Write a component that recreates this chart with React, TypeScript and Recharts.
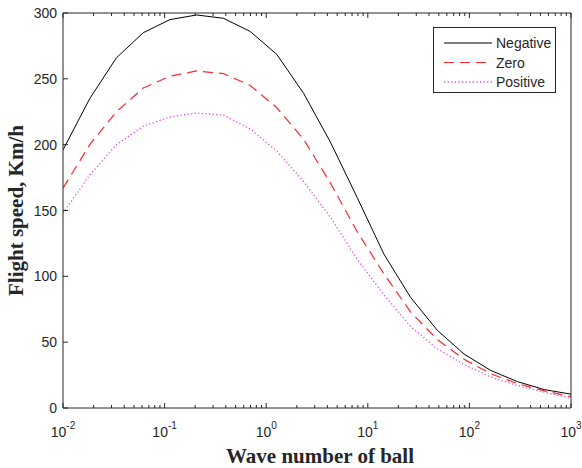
import React from "react";
import { LineChart, Line, XAxis, YAxis, Legend } from "recharts";

// wave number (log spaced, 1e-2 .. 1e3)
const waveNumber = [
  0.01, 0.01833, 0.0336, 0.06158, 0.1129, 0.2069, 0.3793, 0.6952, 1.274, 2.336,
  4.281, 7.848, 14.38, 26.37, 48.33, 88.59, 162.4, 297.6, 545.6, 1000,
];
const negative = [196, 235, 266, 285, 295, 298.5, 296, 286, 268.5, 239, 202, 160, 117, 84, 59, 41, 28.5, 20, 14, 10.5];
const zero = [167, 200, 225, 243, 252, 256, 254, 245, 228, 204, 171, 134, 102, 73, 52, 37, 26, 18.5, 13, 8.6];
const positive = [148, 177, 200, 214, 221, 224, 222.5, 212, 195, 172, 145, 113, 86, 62, 45, 33, 23.5, 17, 12, 7.4];

const decades = [0.01, 0.1, 1, 10, 100, 1000];
const yTicks = [0, 50, 100, 150, 200, 250, 300];

const xTicks = decades.flatMap((d, i) =>
  i < decades.length - 1 ? [2, 3, 4, 5, 6, 7, 8, 9].map((m) => d * m).concat([d]) : [d]
);

const data = waveNumber.map((k, i) => ({
  k,
  negative: negative[i],
  zero: zero[i],
  positive: positive[i],
}));

const AX = "#262626";
const SANS = "'Liberation Sans', Arial, sans-serif";
const SERIF = "'Liberation Serif', 'Times New Roman', serif";

const isMajor = (v: number) => Math.abs(Math.log10(v) - Math.round(Math.log10(v))) < 1e-6;

const BottomTick = ({ x, y, payload }: any) => {
  const v = payload.value;
  const major = isMajor(v);
  const e = Math.round(Math.log10(v));
  return (
    <g>
      <line x1={x} x2={x} y1={y} y2={y - (major ? 5 : 3)} stroke={AX} strokeWidth={1} />
      {major && (
        <text x={x} y={y + 29} textAnchor="middle" fontFamily={SANS} fontSize={14} fill={AX}>
          10
          <tspan dy={-8} fontSize={10}>
            {e}
          </tspan>
        </text>
      )}
    </g>
  );
};

const TopTick = ({ x, y, payload }: any) => {
  const major = isMajor(payload.value);
  return <line x1={x} x2={x} y1={y} y2={y + (major ? 5 : 3)} stroke={AX} strokeWidth={1} />;
};

const LeftTick = ({ x, y, payload }: any) => (
  <g>
    <line x1={x} x2={x + 5} y1={y} y2={y} stroke={AX} strokeWidth={1} />
    <text x={x - 6} y={y + 5} textAnchor="end" fontFamily={SANS} fontSize={14} fill={AX}>
      {payload.value}
    </text>
  </g>
);

const RightTick = ({ x, y }: any) => <line x1={x} x2={x - 5} y1={y} y2={y} stroke={AX} strokeWidth={1} />;

const series = [
  { key: "negative", name: "Negative", color: "#000000", dash: undefined, width: 1 },
  { key: "zero", name: "Zero", color: "#ff2828", dash: "10 6", width: 1.2 },
  { key: "positive", name: "Positive", color: "#dd44dd", dash: "1.2 2.4", width: 1.3 },
];

const LegendBox = () => (
  <div
    style={{
      width: 121,
      height: 64,
      border: `1px solid ${AX}`,
      background: "#fff",
      position: "relative",
    }}
  >
    <svg width={121} height={64}>
      {series.map((s, i) => {
        const cy = 15 + i * 19.5;
        return (
          <g key={s.key}>
            <line x1={10} x2={58} y1={cy} y2={cy} stroke={s.color} strokeWidth={s.width} strokeDasharray={s.dash} />
            <text x={62} y={cy + 5} fontFamily={SANS} fontSize={14} fill={AX}>
              {s.name}
            </text>
          </g>
        );
      })}
    </svg>
  </div>
);

export default function App() {
  return (
    <div style={{ position: "absolute", left: 0, top: 0, background: "#fff" }}>
      <LineChart width={582} height={468} data={data} margin={{ top: 0, right: 0, bottom: 0, left: 0 }}>
        <XAxis
          dataKey="k"
          type="number"
          scale="log"
          domain={[0.01, 1000]}
          allowDataOverflow
          ticks={xTicks}
          interval={0}
          tickSize={0}
          tickMargin={0}
          tickLine={false}
          tick={(p: any) => <BottomTick {...p} />}
          axisLine={{ stroke: AX }}
          height={60}
          label={{
            content: ({ viewBox }: any) => (
              <text
                x={viewBox.x + viewBox.width / 2 + 3}
                y={viewBox.y + 55}
                textAnchor="middle"
                fontFamily={SERIF}
                fontWeight="bold"
                fontSize={21}
                fill={AX}
              >
                Wave number of ball
              </text>
            ),
          }}
        />
        <XAxis
          xAxisId="top"
          orientation="top"
          dataKey="k"
          type="number"
          scale="log"
          domain={[0.01, 1000]}
          allowDataOverflow
          ticks={xTicks}
          interval={0}
          tickSize={0}
          tickMargin={0}
          tickLine={false}
          tick={(p: any) => <TopTick {...p} />}
          axisLine={{ stroke: AX }}
          height={13}
        />
        <YAxis
          domain={[0, 300]}
          ticks={yTicks}
          interval={0}
          tickSize={0}
          tickMargin={0}
          tickLine={false}
          tick={(p: any) => <LeftTick {...p} />}
          axisLine={{ stroke: AX }}
          width={63}
          label={{
            content: ({ viewBox }: any) => {
              const cy = viewBox.y + viewBox.height / 2;
              return (
                <text
                  x={23}
                  y={cy}
                  transform={`rotate(-90, 23, ${cy})`}
                  textAnchor="middle"
                  fontFamily={SERIF}
                  fontWeight="bold"
                  fontSize={21}
                  fill={AX}
                >
                  Flight speed, Km/h
                </text>
              );
            },
          }}
        />
        <YAxis
          yAxisId="right"
          orientation="right"
          domain={[0, 300]}
          ticks={yTicks}
          interval={0}
          tickSize={0}
          tickMargin={0}
          tickLine={false}
          tick={(p: any) => <RightTick {...p} />}
          axisLine={{ stroke: AX }}
          width={11}
        />
        <Legend
          layout="horizontal"
          align="center"
          verticalAlign="middle"
          wrapperStyle={{ top: 27, left: 433, width: 123, height: 66 }}
          content={() => <LegendBox />}
        />
        {series.map((s) => (
          <Line
            key={s.key}
            type="linear"
            dataKey={s.key}
            name={s.name}
            stroke={s.color}
            strokeWidth={s.width}
            strokeDasharray={s.dash}
            dot={false}
            activeDot={false}
            isAnimationActive={false}
          />
        ))}
      </LineChart>
    </div>
  );
}
